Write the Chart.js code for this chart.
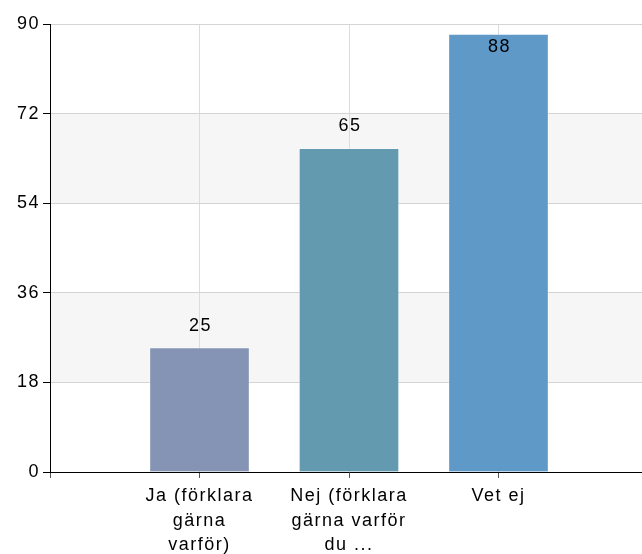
<!DOCTYPE html>
<html>
<head>
<meta charset="utf-8">
<script src="https://cdn.jsdelivr.net/npm/chart.js@4/dist/chart.umd.min.js"></script>
<style>
  html, body { margin: 0; padding: 0; background: #fff; overflow: hidden; }
  #wrap { width: 660px; height: 554px; }
</style>
</head>
<body>
<div id="wrap"><canvas id="canvas" width="660" height="554"></canvas></div>
<script>
// categories (blank first/last slots keep the bars off the axis edges)
const categories = ['', ['Ja (förklara', 'gärna', 'varför)'], ['Nej (förklara', 'gärna varför', 'du ...'], 'Vet ej', ''];
const values = [null, 25, 65, 88, null];
const barColors = ['#fff', '#8594b5', '#639aaf', '#5e99c8', '#fff'];
const yTicks = [0, 18, 36, 54, 72, 90];
const bands = [[18, 36], [54, 72]];

const FONT = '"Liberation Sans", Arial, sans-serif';

// the reference text is set wide; widen it a little
const spacingPlugin = {
  id: 'spacing',
  beforeDraw(chart) { chart.ctx.letterSpacing = '1.5px'; }
};

// grey stripes behind the grid
const bandPlugin = {
  id: 'bands',
  beforeDraw(chart) {
    const { ctx, chartArea, scales } = chart;
    ctx.save();
    ctx.fillStyle = '#f6f6f6';
    bands.forEach(([lo, hi]) => {
      const yTop = scales.y.getPixelForValue(hi);
      const yBot = scales.y.getPixelForValue(lo);
      ctx.fillRect(chartArea.left, yTop, chartArea.right - chartArea.left, yBot - yTop);
    });
    ctx.restore();
  }
};

// value labels, above the bar or inside it when there is no room
const labelPlugin = {
  id: 'valueLabels',
  afterDatasetsDraw(chart) {
    const { ctx, chartArea } = chart;
    const meta = chart.getDatasetMeta(0);
    ctx.save();
    ctx.font = '18px ' + FONT;
    ctx.fillStyle = '#000';
    ctx.textAlign = 'center';
    ctx.textBaseline = 'middle';
    meta.data.forEach((bar, i) => {
      if (values[i] == null) return;
      let y = bar.y - 22;
      if (y - 10 < chartArea.top) y = bar.y + 13;
      ctx.fillText(String(values[i]), bar.x + 1, y);
    });
    ctx.restore();
  }
};

new Chart(document.getElementById('canvas').getContext('2d'), {
  type: 'bar',
  data: {
    labels: categories,
    datasets: [{
      data: values,
      backgroundColor: barColors,
      borderColor: 'rgba(255,255,255,0.35)',
      borderWidth: 1,
      barThickness: 100
    }]
  },
  plugins: [spacingPlugin, bandPlugin, labelPlugin],
  options: {
    responsive: false,
    animation: false,
    layout: { padding: { top: 24, right: 12, left: 0, bottom: 0 } },
    plugins: {
      legend: { display: false },
      tooltip: { enabled: false }
    },
    scales: {
      x: {
        offset: false,
        grid: {
          offset: false,
          color: '#dcdcdc',
          tickColor: '#555',
          tickLength: 6
        },
        border: { color: '#000', width: 1 },
        ticks: {
          autoSkip: false,
          maxRotation: 0,
          color: '#000',
          padding: 6,
          font: { family: FONT, size: 18, lineHeight: 1.36 }
        },
        afterFit(scale) { scale.height = 82; }
      },
      y: {
        min: 0,
        max: 90,
        afterBuildTicks(scale) { scale.ticks = yTicks.map(v => ({ value: v })); },
        grid: {
          color: '#d4d4d4',
          tickColor: '#000',
          tickLength: 7
        },
        border: { color: '#000', width: 1 },
        ticks: {
          color: '#000',
          padding: 3,
          font: { family: FONT, size: 18 }
        },
        afterFit(scale) { scale.width = 50; }
      }
    }
  }
});
</script>
</body>
</html>
